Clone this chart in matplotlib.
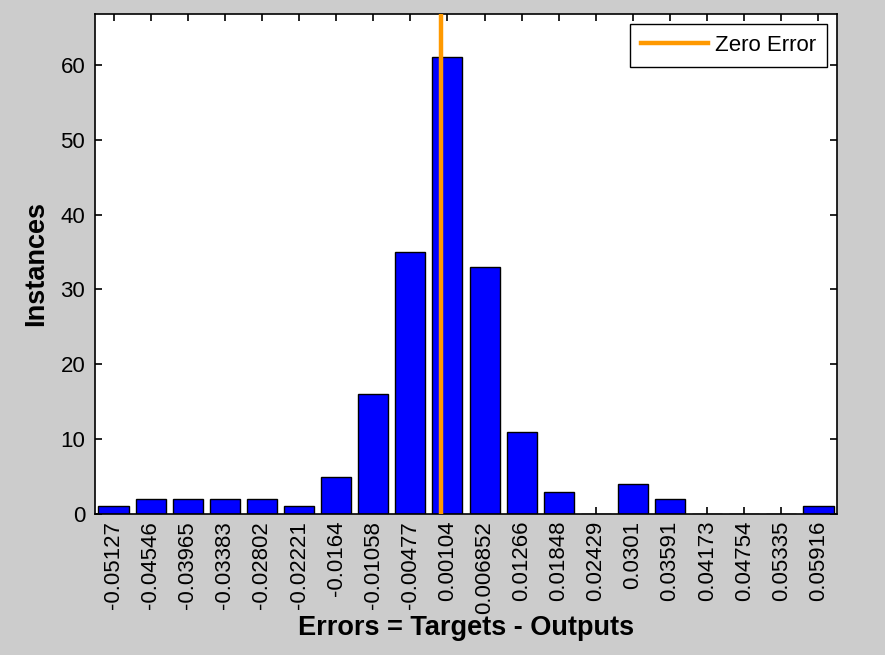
"""
histogramme des erreurs (style ploterrhist MATLAB)
"""

import matplotlib
matplotlib.use("Agg")
import matplotlib.pyplot as plt

# centres des classes (tels qu'affichés) et nombre d'instances
bin_labels = ["-0.05127", "-0.04546", "-0.03965", "-0.03383", "-0.02802",
              "-0.02221", "-0.0164", "-0.01058", "-0.00477", "0.00104",
              "0.006852", "0.01266", "0.01848", "0.02429", "0.0301",
              "0.03591", "0.04173", "0.04754", "0.05335", "0.05916"]
counts = [1, 2, 2, 2, 2, 1, 5, 16, 35, 61, 33, 11, 3, 0, 4, 2, 0, 0, 0, 1]
zero_error = 0.0

centers = [float(s) for s in bin_labels]
w = (centers[-1] - centers[0]) / (len(centers) - 1)

plt.rcParams["font.family"] = ["Liberation Sans", "DejaVu Sans"]

fig = plt.figure(figsize=(8.85, 6.55), dpi=100, facecolor="#cccccc")
ax = fig.add_axes([0.1073, 0.2153, 0.8385, 0.7633])

ax.bar(centers, counts, width=0.81 * w, color="#0000ff", edgecolor="black",
       linewidth=1.0, zorder=2)
ax.axvline(zero_error, color="#ff9900", linewidth=3.2, label="Zero Error", zorder=3)

ax.set_xlim(centers[0] - w / 2, centers[-1] + w / 2)
ax.set_ylim(0, 66.8)
ax.set_xticks(centers)
ax.set_xticklabels(bin_labels, rotation=90, fontsize=16)
ax.set_yticks(range(0, 61, 10))
ax.tick_params(axis="y", labelsize=16, pad=7)
ax.tick_params(axis="x", pad=5)
ax.tick_params(direction="in", length=5, width=1.2, top=True, right=True)
for sp in ax.spines.values():
    sp.set_linewidth(1.2)

ax.set_xlabel("Errors = Targets - Outputs", fontsize=19.5, fontweight="bold", labelpad=1)
ax.set_ylabel("Instances", fontsize=19.5, fontweight="bold", labelpad=8)

leg = ax.legend(loc="upper right", fontsize=16, fancybox=False, framealpha=1,
                edgecolor="black", handlelength=3.0, handletextpad=0.3,
                borderpad=0.5, borderaxespad=0.45)
leg.get_frame().set_linewidth(1.0)

fig.savefig("out.png", dpi=100, facecolor=fig.get_facecolor())
